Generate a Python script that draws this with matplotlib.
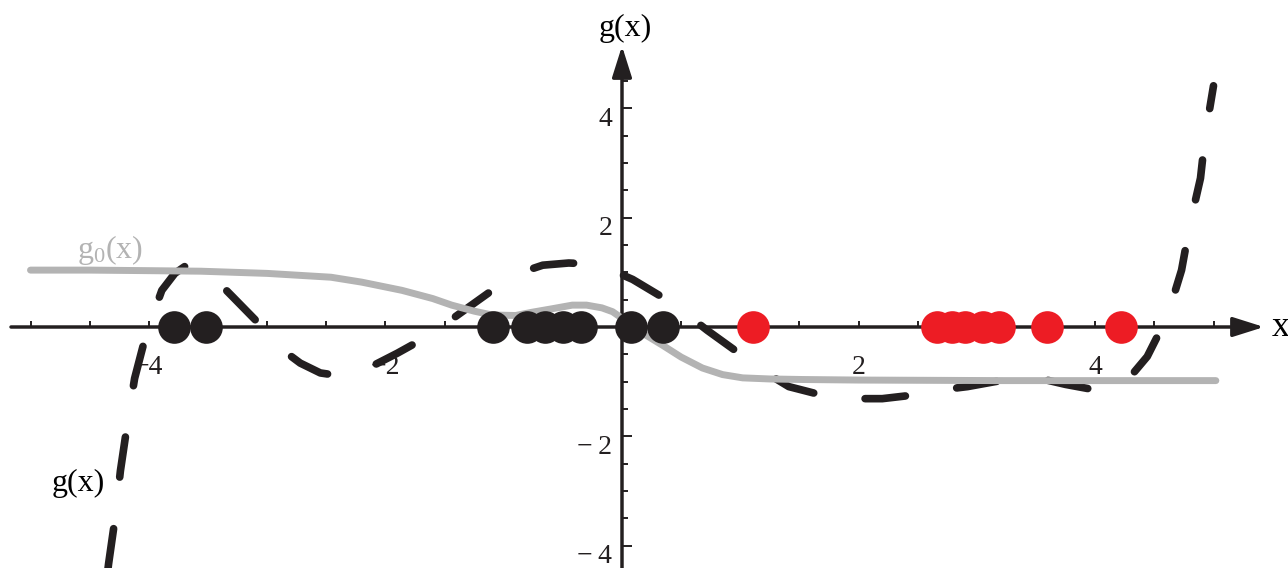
import matplotlib
matplotlib.use("Agg")
import matplotlib.pyplot as plt
import matplotlib.transforms as mtransforms
import numpy as np

# ---- data ----
g_x = [-4.345, -4.34, -4.28, -4.24, -4.18, -4.12, -4.02, -3.89, -3.78, -3.68, -3.57,
       -3.45, -3.29, -3.0, -2.85, -2.72, -2.55, -2.36, -2.2, -2.09, -1.9, -1.70,
       -1.53, -1.35, -1.02, -0.85, -0.67, -0.45, -0.26, -0.08, 0.09, 0.43, 0.72,
       1.06, 1.25, 1.41, 1.77, 2.0, 2.2, 2.4, 2.58, 2.92, 3.15, 3.35, 3.55, 3.75,
       3.95, 4.13, 4.3, 4.44, 4.61, 4.73, 4.80, 4.89, 4.93, 5.0]
g_y = [-4.42, -4.33, -3.42, -2.63, -1.75, -0.94, -0.11, 0.67, 0.98, 1.13, 1.10,
       0.90, 0.55, -0.09, -0.45, -0.66, -0.84, -0.90, -0.85, -0.69, -0.48, -0.24,
       0.0, 0.28, 0.79, 1.0, 1.13, 1.17, 1.15, 1.03, 0.87, 0.43, -0.06,
       -0.59, -0.88, -1.09, -1.29, -1.31, -1.31, -1.26, -1.18, -1.09, -1.0, -0.93, -0.95, -1.05,
       -1.13, -1.11, -0.90, -0.54, 0.19, 1.04, 1.87, 2.72, 3.5, 4.41]

g0_x = [-5.0, -4.5, -4.0, -3.56, -3.0, -2.46, -2.2, -1.86, -1.6, -1.44, -1.25, -1.10,
        -0.9, -0.76, -0.6, -0.42, -0.3, -0.17, -0.08, 0.0, 0.15, 0.34, 0.5, 0.68,
        0.85, 1.02, 1.25, 1.53, 2.0, 3.22, 4.0, 5.02]
g0_y = [1.04, 1.04, 1.03, 1.02, 0.98, 0.91, 0.82, 0.67, 0.52, 0.40, 0.29, 0.22,
        0.21, 0.27, 0.33, 0.40, 0.40, 0.35, 0.28, 0.16, -0.08, -0.33, -0.55, -0.75,
        -0.87, -0.93, -0.95, -0.96, -0.97, -0.98, -0.98, -0.98]

black_pts = [-3.79, -3.52, -1.09, -0.80, -0.65, -0.50, -0.35, 0.08, 0.35]
red_pts = [1.11, 2.66, 2.79, 2.90, 3.05, 3.19, 3.59, 4.22]

x_major = [-4, -2, 2, 4]
x_minor = [-5, -4.5, -3.5, -3, -2.5, -1.5, -1, -0.5, 0.5, 1, 1.5, 2.5, 3, 3.5, 4.5, 5]
y_major = [-4, -2, 2, 4]
y_minor = [-3.5, -3, -2.5, -1.5, -1, -0.5, 0.5, 1, 1.5, 2.5, 3, 3.5, 4.5]
x_labels = ["\u22124", "\u22122", "2", "4"]
y_labels = ["\u2212\u20094", "\u2212\u20092", "2", "4"]

# ---- figure ----
plt.rcParams["mathtext.fontset"] = "custom"
plt.rcParams["mathtext.rm"] = "Liberation Serif"
W, H, DPI = 12.88, 5.68, 100
fig = plt.figure(figsize=(W, H), dpi=DPI)
ax = fig.add_axes([0, 0, 1, 1])
ox, sx = 622.0, 118.3     # pixel origin / px per unit (x)
oy, sy = 327.0, 54.7      # pixel origin / px per unit (y)
ax.set_xlim(-ox / sx, (1288 - ox) / sx)
ax.set_ylim(-(568 - oy) / sy, oy / sy)
ax.patch.set_alpha(0)

axis_col = "#231F20"
for s in ax.spines.values():
    s.set_visible(False)
ax.spines["left"].set_position(("data", 0))
ax.spines["bottom"].set_position(("data", 0))

# axis lines with arrows
xlo = (11 - ox) / sx
xtip = (1264 - ox) / sx
ytip = (oy - 46) / sy
ylo = -(570 - oy) / sy
arrow_kw = dict(arrowstyle="-|>,head_length=19,head_width=6", color=axis_col,
                lw=2.5, mutation_scale=1, shrinkA=0, shrinkB=0)
ax.annotate("", xy=(xtip, 0), xytext=(xlo, 0), arrowprops=arrow_kw, zorder=1)
ax.annotate("", xy=(0, ytip), xytext=(0, ylo), arrowprops=arrow_kw, zorder=1)

# ticks
ax.set_xticks(x_major)
ax.set_xticklabels(x_labels)
ax.set_xticks(x_minor, minor=True)
ax.set_yticks(y_major)
ax.set_yticklabels(y_labels)
ax.set_yticks(y_minor, minor=True)
ax.tick_params(axis="x", which="both", direction="in", length=4.5, width=1.4,
               color=axis_col, labelsize=20, pad=20)
ax.tick_params(axis="y", which="major", direction="in", length=7.5, width=1.4,
               color=axis_col, labelsize=20, pad=7)
ax.tick_params(axis="y", which="minor", direction="in", length=4.5, width=1.4,
               color=axis_col)
for lab in ax.get_xticklabels() + ax.get_yticklabels():
    lab.set_fontfamily(["Liberation Serif", "DejaVu Serif"])
    lab.set_color(axis_col)
off = mtransforms.ScaledTranslation(0, -8 / DPI, fig.dpi_scale_trans)
for lab in ax.get_yticklabels():
    lab.set_transform(lab.get_transform() + off)

# curves
ax.plot(g_x, g_y, color=axis_col, lw=5.5, dashes=(5.3, 6.8),
        dash_capstyle="round", solid_capstyle="round", zorder=2)
ax.plot(g0_x, g0_y, color="#B3B3B3", lw=5.0, solid_capstyle="round", zorder=3)

# dots
ax.plot(black_pts, [0] * len(black_pts), "o", color=axis_col, ms=23.5,
        markeredgewidth=0, zorder=4)
ax.plot(red_pts, [0] * len(red_pts), "o", color="#ED1C24", ms=23.5,
        markeredgewidth=0, zorder=4)

# labels
tf = dict(fontfamily="Liberation Serif", fontsize=23, ha="center", va="center")
fig.text(625 / 1288, 1 - 28 / 568, "g(x)", color="black", **tf)
fig.text(78 / 1288, 1 - 483 / 568, "g(x)", color="black", **tf)
fig.text(110 / 1288, 1 - 250 / 568, r"$\mathrm{g_0(x)}$", color="#B3B3B3",
         fontsize=23, ha="center", va="center")
fig.text(1272 / 1288, 1 - 327 / 568, "x", color="black", fontfamily="Liberation Serif",
         fontsize=26, ha="left", va="center")

fig.savefig("out.png", dpi=DPI)
